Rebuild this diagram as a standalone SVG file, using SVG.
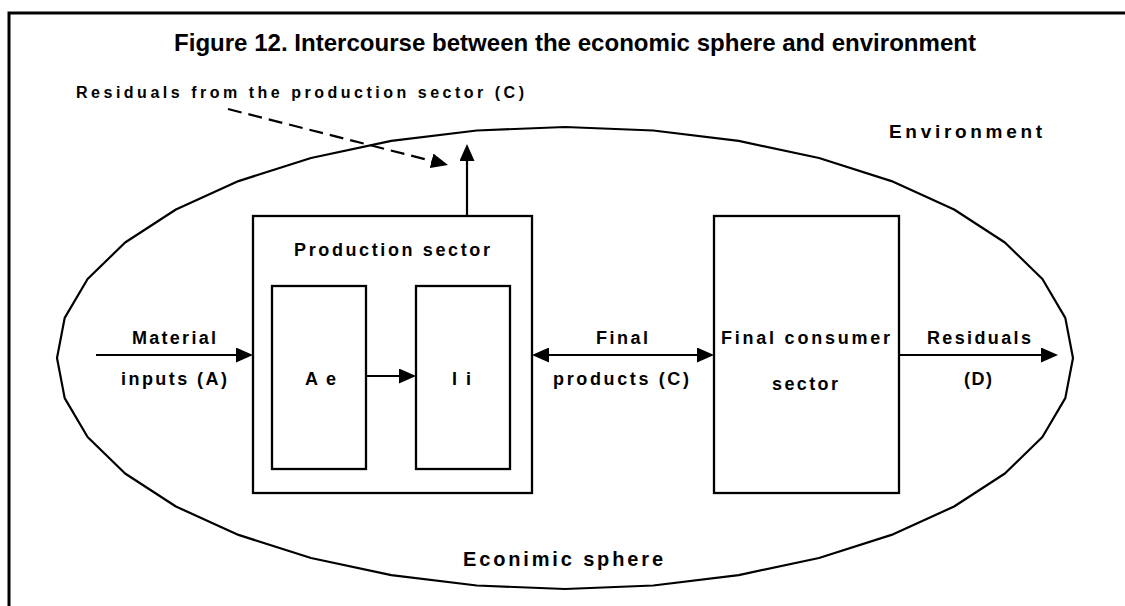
<svg xmlns="http://www.w3.org/2000/svg" width="1125" height="606" viewBox="0 0 1125 606">
<style>
text{font-family:"Liberation Sans",Arial,sans-serif;font-weight:bold;fill:#000}
.t{font-size:24px}
.l{font-size:18px}
.s{font-size:16px}
.e{font-size:19px}
.c{font-size:20px}
.box{fill:none;stroke:#000;stroke-width:2.3}
.edge{fill:none;stroke:#000;stroke-width:2.2}
.dash{stroke-dasharray:14 7}
.frame{fill:none;stroke:#000;stroke-width:3}
.sphere{fill:none;stroke:#000;stroke-width:2.2;stroke-linejoin:round}
</style>
<defs>
<marker id="ah" markerUnits="userSpaceOnUse" markerWidth="17" markerHeight="15" refX="12" refY="7.5" orient="auto-start-reverse" viewBox="0 0 17 15"><path d="M0,0 L17,7.5 L0,15 z" fill="#000"/></marker>
</defs>
<rect x="0" y="0" width="1125" height="606" fill="#fff"/>
<path class="frame" d="M9,606 V13 H1125"/>
<text class="t" x="174" y="51" textLength="802" lengthAdjust="spacingAndGlyphs">Figure 12. Intercourse between the economic sphere and environment</text>
<text class="s" x="76" y="98" textLength="448" lengthAdjust="spacing">Residuals from the production sector (C)</text>
<text class="e" x="889" y="138" textLength="153" lengthAdjust="spacing">Environment</text>
<g id="economic-sphere">
<path class="sphere" d="M1073,358 L1065.3,398.1 L1042.4,437 L1004.9,473.5 L954.1,506.5 L891.5,534.9 L819,558 L738.7,575.1 L653.2,585.5 L565,589 L476.8,585.5 L391.3,575.1 L311,558 L238.5,534.9 L175.9,506.5 L125.1,473.5 L87.6,437 L64.7,398.1 L57,358 L64.7,317.9 L87.6,279 L125.1,242.5 L175.9,209.5 L238.5,181.1 L311,158 L391.3,140.9 L476.8,130.5 L565,127 L653.2,130.5 L738.7,140.9 L819,158 L891.5,181.1 L954.1,209.5 L1004.9,242.5 L1042.4,279 L1065.3,317.9 Z"/>
<text class="c" x="463" y="566" textLength="200" lengthAdjust="spacing">Econimic sphere</text>
</g>
<g id="production-sector">
<rect class="box" x="253" y="216" width="279" height="277"/>
<text class="l" x="294" y="256" textLength="196" lengthAdjust="spacing">Production sector</text>
</g>
<g id="ae">
<rect class="box" x="272" y="286" width="94" height="183"/>
<text class="l" x="305" y="385" textLength="31" lengthAdjust="spacing">Ae</text>
</g>
<g id="ii">
<rect class="box" x="416" y="286" width="94" height="183"/>
<text class="l" x="452" y="385" textLength="19" lengthAdjust="spacing">Ii</text>
</g>
<g id="final-consumer-sector">
<rect class="box" x="714" y="216" width="185" height="277"/>
<text class="l" x="721" y="344" textLength="169" lengthAdjust="spacing">Final consumer</text>
<text class="l" x="772" y="390" textLength="66" lengthAdjust="spacing">sector</text>
</g>
<g id="connectors">
<line class="edge dash" x1="228" y1="109" x2="443.2" y2="163.8" marker-end="url(#ah)"/>
<line class="edge" x1="467" y1="216" x2="467" y2="149" marker-end="url(#ah)"/>
<line class="edge" x1="96" y1="355" x2="248" y2="355" marker-end="url(#ah)"/>
<line class="edge" x1="366" y1="376" x2="411" y2="376" marker-end="url(#ah)"/>
<line class="edge" x1="537" y1="355" x2="709" y2="355" marker-start="url(#ah)" marker-end="url(#ah)"/>
<line class="edge" x1="899" y1="355" x2="1053" y2="355" marker-end="url(#ah)"/>
<text class="l" x="132" y="344" textLength="84" lengthAdjust="spacing">Material</text>
<text class="l" x="121" y="385" textLength="106" lengthAdjust="spacing">inputs (A)</text>
<text class="l" x="596" y="344" textLength="52" lengthAdjust="spacing">Final</text>
<text class="l" x="553" y="385" textLength="136" lengthAdjust="spacing">products (C)</text>
<text class="l" x="927" y="344" textLength="104" lengthAdjust="spacing">Residuals</text>
<text class="l" x="964" y="385" textLength="28" lengthAdjust="spacing">(D)</text>
</g>
</svg>
